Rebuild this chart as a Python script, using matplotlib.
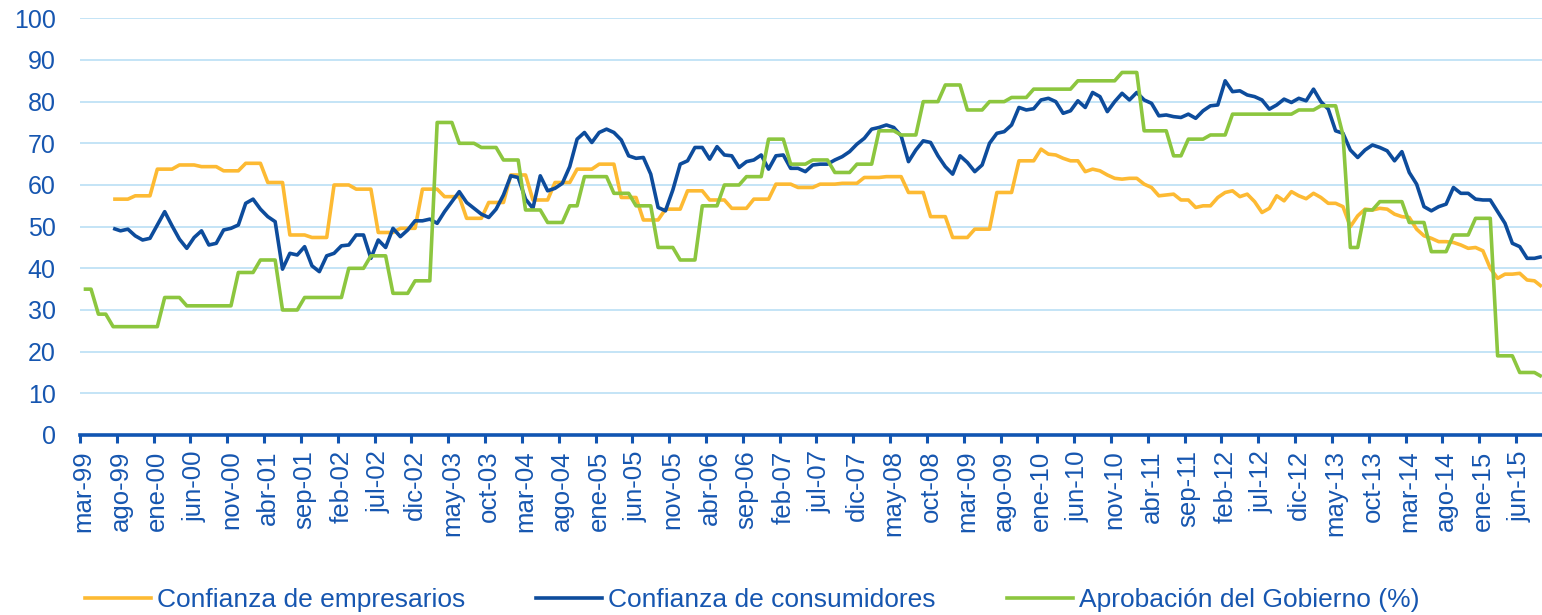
import numpy as np
import matplotlib
matplotlib.use("Agg")
import matplotlib.pyplot as plt
from matplotlib.lines import Line2D

plt.rcParams['font.family'] = ['Liberation Sans', 'DejaVu Sans']

nan = float('nan')

# Month labels (every 5th month, starting mar-99)
tick_labels = ["mar-99", "ago-99", "ene-00", "jun-00", "nov-00", "abr-01", "sep-01", "feb-02",
               "jul-02", "dic-02", "may-03", "oct-03", "mar-04", "ago-04", "ene-05", "jun-05",
               "nov-05", "abr-06", "sep-06", "feb-07", "jul-07", "dic-07", "may-08", "oct-08",
               "mar-09", "ago-09", "ene-10", "jun-10", "nov-10", "abr-11", "sep-11", "feb-12",
               "jul-12", "dic-12", "may-13", "oct-13", "mar-14", "ago-14", "ene-15", "jun-15"]

empresarios = [
    nan, nan, nan, nan, 56.6, 56.6, 56.6, 57.4, 57.4, 57.4,
    63.8, 63.8, 63.8, 64.8, 64.8, 64.8, 64.4, 64.4, 64.4, 63.4,
    63.4, 63.4, 65.2, 65.2, 65.2, 60.6, 60.6, 60.6, 48.0, 48.0,
    48.0, 47.4, 47.4, 47.4, 60.0, 60.0, 60.0, 59.0, 59.0, 59.0,
    48.6, 48.6, 48.6, 49.6, 49.6, 49.6, 59.0, 59.0, 59.0, 57.2,
    57.2, 57.2, 52.0, 52.0, 52.0, 55.8, 55.8, 55.8, 62.4, 62.4,
    62.4, 56.4, 56.4, 56.4, 60.6, 60.6, 60.6, 63.8, 63.8, 63.8,
    65.0, 65.0, 65.0, 57.0, 57.0, 57.0, 51.6, 51.6, 51.6, 54.2,
    54.2, 54.2, 58.6, 58.6, 58.6, 56.4, 56.4, 56.4, 54.4, 54.4,
    54.4, 56.6, 56.6, 56.6, 60.2, 60.2, 60.2, 59.4, 59.4, 59.4,
    60.2, 60.2, 60.2, 60.4, 60.4, 60.4, 61.8, 61.8, 61.8, 62.0,
    62.0, 62.0, 58.2, 58.2, 58.2, 52.4, 52.4, 52.4, 47.4, 47.4,
    47.4, 49.4, 49.4, 49.4, 58.2, 58.2, 58.2, 65.8, 65.8, 65.8,
    68.6, 67.4, 67.2, 66.4, 65.8, 65.8, 63.2, 63.8, 63.4, 62.4,
    61.6, 61.4, 61.6, 61.6, 60.2, 59.4, 57.4, 57.6, 57.8, 56.4,
    56.4, 54.6, 55.0, 55.0, 57.0, 58.2, 58.6, 57.2, 57.8, 56.0,
    53.4, 54.4, 57.4, 56.2, 58.4, 57.4, 56.7, 58.0, 57.0, 55.6,
    55.6, 54.8, 50.0, 52.6, 54.2, 54.0, 54.4, 54.2, 53.0, 52.4,
    52.2, 49.4, 47.8, 47.2, 46.4, 46.4, 46.2, 45.6, 44.8, 45.0,
    44.2, 40.0, 37.6, 38.6, 38.6, 38.8, 37.2, 37.0, 35.6,
]

consumidores = [
    nan, nan, nan, nan, 49.6, 49.0, 49.4, 47.8, 46.8, 47.2,
    50.4, 53.6, 50.2, 47.0, 44.8, 47.4, 49.0, 45.6, 46.0, 49.2,
    49.6, 50.4, 55.6, 56.6, 54.2, 52.4, 51.2, 39.8, 43.6, 43.2,
    45.2, 40.6, 39.2, 43.0, 43.6, 45.4, 45.6, 48.0, 48.0, 42.4,
    46.8, 45.0, 49.6, 47.6, 49.2, 51.4, 51.4, 51.8, 50.8, 53.6,
    56.0, 58.4, 55.8, 54.4, 53.0, 52.2, 54.2, 57.6, 62.2, 61.8,
    56.6, 54.4, 62.2, 58.6, 59.2, 60.4, 64.4, 71.0, 72.6, 70.2,
    72.6, 73.4, 72.6, 70.8, 67.0, 66.4, 66.6, 62.6, 54.6, 53.8,
    58.8, 65.0, 65.8, 69.0, 69.0, 66.2, 69.2, 67.2, 67.0, 64.2,
    65.6, 66.0, 67.2, 63.8, 67.0, 67.2, 64.0, 64.0, 63.2, 64.8,
    65.0, 65.0, 66.0, 66.8, 68.0, 69.8, 71.2, 73.4, 73.8, 74.4,
    73.8, 71.8, 65.6, 68.4, 70.6, 70.2, 67.0, 64.4, 62.6, 67.0,
    65.4, 63.2, 64.8, 70.0, 72.4, 72.8, 74.4, 78.6, 78.0, 78.3,
    80.4, 80.8, 80.0, 77.2, 77.8, 80.2, 78.6, 82.2, 81.2, 77.6,
    80.0, 82.0, 80.4, 82.2, 80.4, 79.6, 76.6, 76.8, 76.4, 76.2,
    77.0, 76.0, 77.8, 79.0, 79.2, 85.0, 82.4, 82.6, 81.6, 81.2,
    80.4, 78.2, 79.2, 80.6, 79.8, 80.8, 80.2, 83.0, 80.0, 78.2,
    73.0, 72.4, 68.4, 66.6, 68.4, 69.6, 69.0, 68.2, 65.8, 68.0,
    63.0, 60.2, 54.8, 53.8, 54.8, 55.4, 59.4, 58.0, 58.0, 56.6,
    56.4, 56.4, 53.6, 50.8, 46.0, 45.2, 42.4, 42.4, 42.8,
]

aprobacion = [
    35, 35, 29, 29, 26, 26, 26, 26, 26, 26,
    26, 33, 33, 33, 31, 31, 31, 31, 31, 31,
    31, 39, 39, 39, 42, 42, 42, 30, 30, 30,
    33, 33, 33, 33, 33, 33, 40, 40, 40, 43,
    43, 43, 34, 34, 34, 37, 37, 37, 75, 75,
    75, 70, 70, 70, 69, 69, 69, 66, 66, 66,
    54, 54, 54, 51, 51, 51, 55, 55, 62, 62,
    62, 62, 58, 58, 58, 55, 55, 55, 45, 45,
    45, 42, 42, 42, 55, 55, 55, 60, 60, 60,
    62, 62, 62, 71, 71, 71, 65, 65, 65, 66,
    66, 66, 63, 63, 63, 65, 65, 65, 73, 73,
    73, 72, 72, 72, 80, 80, 80, 84, 84, 84,
    78, 78, 78, 80, 80, 80, 81, 81, 81, 83,
    83, 83, 83, 83, 83, 85, 85, 85, 85, 85,
    85, 87, 87, 87, 73, 73, 73, 73, 67, 67,
    71, 71, 71, 72, 72, 72, 77, 77, 77, 77,
    77, 77, 77, 77, 77, 78, 78, 78, 79, 79,
    79, 72, 45, 45, 54, 54, 56, 56, 56, 56,
    51, 51, 51, 44, 44, 44, 48, 48, 48, 52,
    52, 52, 19, 19, 19, 15, 15, 15, 14,
]

series_names = ["Confianza de empresarios", "Confianza de consumidores", "Aprobación del Gobierno (%)"]
colors = ["#FDBA33", "#0D4C9C", "#8CC63F"]
text_color = "#1656B0"
axis_color = "#1155B2"
grid_color = "#C4E4F6"

n = len(aprobacion)
x = np.arange(n)

W, H = 1542, 615
fig = plt.figure(figsize=(W / 100, H / 100), dpi=100)
left_px, right_px = 80, 1545.5
top_px, bottom_px = 18.3, 435
ax = fig.add_axes([left_px / W, 1 - bottom_px / H, (right_px - left_px) / W, (bottom_px - top_px) / H])

for data, c, name in zip([empresarios, consumidores, aprobacion], colors, series_names):
    ax.plot(x, np.array(data, dtype=float), color=c, lw=2.6, label=name,
            solid_joinstyle='round', solid_capstyle='butt')

ax.set_xlim(-0.5, n - 0.5)
ax.set_ylim(0, 100)
ax.set_yticks(np.arange(0, 101, 10))
ax.yaxis.grid(True, color=grid_color, lw=1.4)
ax.set_axisbelow(True)

for s in ["left", "right", "top"]:
    ax.spines[s].set_visible(False)
ax.spines["bottom"].set_color(axis_color)
ax.spines["bottom"].set_linewidth(2.6)
ax.spines["bottom"].set_zorder(5)

ax.tick_params(axis='y', length=0, pad=17.5, labelsize=18, labelcolor=text_color)

label_pos = np.arange(0, n, 5)[:len(tick_labels)]
ax.set_xticks(label_pos)
ax.set_xticklabels(tick_labels, rotation=90, fontsize=18.5, color=text_color)
ax.tick_params(axis='x', which='major', length=0, pad=11)
ax.set_xticks(np.arange(-0.5, n, 5), minor=True)
ax.tick_params(axis='x', which='minor', length=6, width=2.2, color=axis_color, direction='out')

handles = [Line2D([0], [0], color=c, lw=2.6) for c in colors]
leg = fig.legend(handles, series_names, loc='center', bbox_to_anchor=(752 / W, 1 - 600 / H),
                 ncol=3, frameon=False, fontsize=19, handlelength=2.5, handletextpad=0.23,
                 columnspacing=2.7, borderpad=0, borderaxespad=0)
for t in leg.get_texts():
    t.set_color(text_color)

fig.savefig("out.png", dpi=100)
